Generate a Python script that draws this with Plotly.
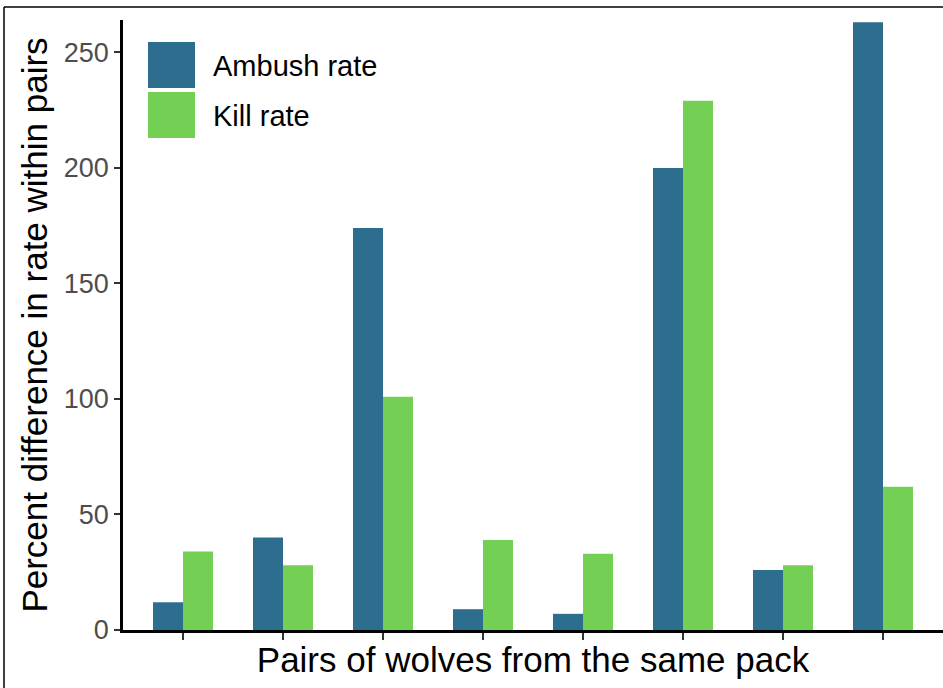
import plotly.graph_objects as go

pairs = ["1", "2", "3", "4", "5", "6", "7", "8"]
ambush_rate = [12, 40, 174, 9, 7, 200, 26, 263]
kill_rate = [34, 28, 101, 39, 33, 229, 28, 62]
y_ticks = [0, 50, 100, 150, 200, 250]
series_names = ["Ambush rate", "Kill rate"]

C_AMB = "#2D6E8E"
C_KILL = "#73D055"
FONT = "Liberation Sans, Arial, Helvetica, sans-serif"

W, H = 943, 688
L, R, T, B = 123, 0, 20, 58
pw, ph = W - L - R, H - T - B

fig = go.Figure()
fig.add_trace(go.Bar(x=pairs, y=ambush_rate, name=series_names[0], marker_color=C_AMB,
                     marker_line_width=0, showlegend=False))
fig.add_trace(go.Bar(x=pairs, y=kill_rate, name=series_names[1], marker_color=C_KILL,
                     marker_line_width=0, showlegend=False))

def px_x(p):
    return (p - L) / pw

def px_y(p):
    return (H - B - p) / ph

shapes = []
# outer frame lines (left and top)
shapes.append(dict(type="line", xref="paper", yref="paper", x0=px_x(4), x1=px_x(950),
                   y0=px_y(7), y1=px_y(7), line=dict(color="black", width=1.5)))
shapes.append(dict(type="line", xref="paper", yref="paper", x0=px_x(4), x1=px_x(4),
                   y0=px_y(7), y1=px_y(700), line=dict(color="black", width=1.5)))
# legend keys
annotations = []
for i, (name, col) in enumerate(zip(series_names, [C_AMB, C_KILL])):
    y0 = 42 + i * 50
    shapes.append(dict(type="rect", xref="paper", yref="paper", x0=px_x(148), x1=px_x(195),
                       y0=px_y(y0 + 46), y1=px_y(y0), fillcolor=col, line=dict(width=0)))
    annotations.append(dict(xref="paper", yref="paper", x=px_x(211), y=px_y(y0 + 24),
                            text=name, showarrow=False, xanchor="left", yanchor="middle",
                            font=dict(size=29, color="black", family=FONT)))

fig.update_layout(
    width=W, height=H,
    margin=dict(l=L, r=R, t=T, b=B),
    paper_bgcolor="white", plot_bgcolor="white",
    barmode="group", bargap=0.4, bargroupgap=0,
    font=dict(family=FONT, color="black"),
    shapes=shapes, annotations=annotations,
    xaxis=dict(
        range=[-0.6, 7.6], showgrid=False, showticklabels=False,
        ticks="outside", ticklen=7, tickwidth=2, tickcolor="#333333",
        showline=True, linecolor="black", linewidth=2.5,
        title=dict(text="Pairs of wolves from the same pack", font=dict(size=35, color="black"),
                   standoff=9),
    ),
    yaxis=dict(
        range=[0, 264], showgrid=False, zeroline=False,
        tickvals=y_ticks, ticktext=[str(v) for v in y_ticks],
        ticks="outside", ticklen=6, tickwidth=2, tickcolor="#333333",
        tickfont=dict(size=27, color="#4D4D4D"),
        showline=True, linecolor="black", linewidth=2.5,
        title=dict(text="Percent difference in rate within pairs", font=dict(size=35, color="black"),
                   standoff=6),
    ),
)

fig.write_html("out.html", config={"displayModeBar": False},
               post_script="document.body.style.margin='0px';document.body.style.overflow='hidden';")
